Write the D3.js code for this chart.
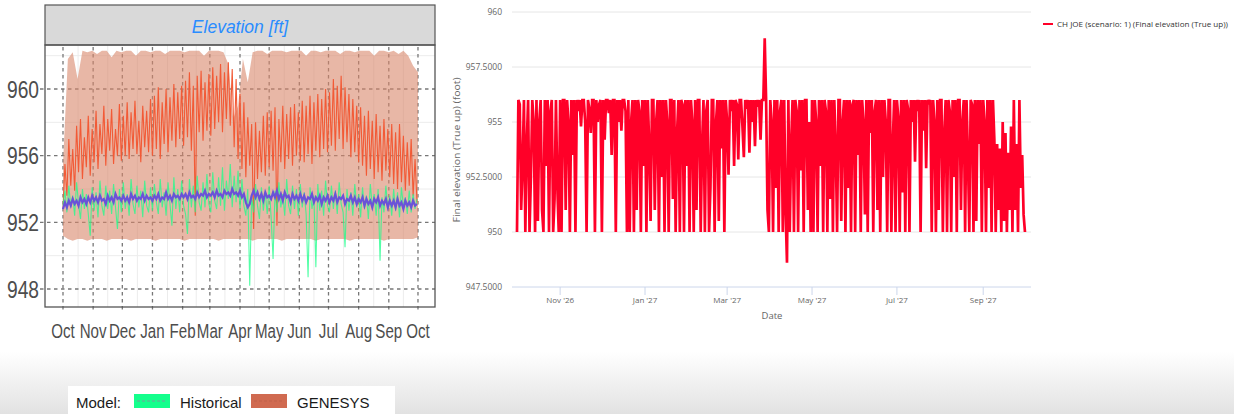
<!DOCTYPE html>
<html><head><meta charset="utf-8">
<script src="https://cdn.jsdelivr.net/npm/d3@7"></script>
<style>body{margin:0;background:#fff}svg{display:block}</style>
</head><body><svg id="c" width="1234" height="414"></svg>
<script>
// ---------- LEFT CHART DATA (ggplot style, water year Oct..Oct) ----------
const monthsL = ['Oct','Nov','Dec','Jan','Feb','Mar','Apr','May','Jun','Jul','Aug','Sep','Oct'];
const yTicksL = [948, 952, 956, 960];
const yMinorL = [950, 954, 958, 962];
// GENESYS envelope (5-day step)
const bandHi = [955.5,961.8,962.2,960.6,962.3,962.2,962.3,962.1,962.3,962.3,
  961.9,962.3,962.2,962.3,962.3,962.0,962.3,962.3,962.2,962.3,
  962.3,962.1,962.3,962.3,962.3,962.2,962.3,962.3,962.3,962.0,
  962.3,962.3,962.3,962.2,961.5,958.2,959.0,961.8,960.4,962.2,
  962.3,962.3,962.1,962.3,962.3,962.3,962.2,962.3,962.3,962.3,
  962.0,962.3,962.3,962.2,962.3,962.3,962.3,962.1,962.3,962.3,
  962.2,962.3,962.3,962.3,962.0,962.3,962.3,962.2,962.3,962.1,
  962.3,962.0,961.4,961.0];
const bandLo = [951.2,951.0,950.9,951.0,951.0,950.9,951.0,951.0,951.0,950.9,
  951.0,951.0,951.0,951.0,950.9,951.0,951.0,951.0,951.0,950.9,
  951.0,951.0,951.0,951.0,951.0,950.9,951.0,951.0,951.0,951.0,
  951.0,951.0,950.9,951.0,951.0,951.0,951.0,951.0,951.0,950.9,
  951.0,951.0,951.0,951.0,951.0,950.9,951.0,951.0,951.0,951.0,
  951.0,951.0,950.9,951.0,951.0,951.0,951.0,951.0,951.0,950.9,
  951.0,951.0,951.0,951.0,951.0,951.0,950.9,951.0,951.0,951.0,
  951.0,951.0,951.0,951.1];
// GENESYS trace (2-day step)
const genesys = [
  952.8,955.5,953.6,957.0,954.2,956.4,953.9,957.8,955.0,958.2,954.6,957.1,955.3,958.4,954.8,957.6,
  955.6,958.7,955.2,957.9,956.1,959.0,955.4,958.2,956.3,958.8,955.5,957.6,956.0,959.1,955.7,
  958.4,956.0,959.2,955.8,958.6,956.4,959.3,956.1,958.1,955.6,959.0,956.5,958.7,956.2,959.4,
  956.0,959.6,956.4,960.1,955.8,959.2,956.7,960.0,956.2,959.5,956.9,960.3,956.5,959.8,957.0,960.2,
  956.6,960.5,957.1,961.0,956.3,960.2,952.4,960.8,957.4,961.1,956.9,960.4,957.5,960.9,
  957.2,961.3,957.6,960.8,958.0,961.5,957.4,961.0,958.2,961.6,957.8,961.2,956.5,960.6,955.8,959.7,
  955.2,959.2,954.7,958.3,955.4,957.9,951.6,958.0,954.6,957.5,955.0,958.4,954.8,958.6,955.3,
  958.7,955.1,958.9,951.8,958.2,955.6,959.0,955.2,958.5,955.8,958.9,955.4,959.1,956.0,958.6,955.7,
  959.3,955.6,959.0,956.1,959.6,955.5,959.2,956.3,959.7,955.9,959.4,956.4,960.0,956.2,959.8,
  956.6,960.6,956.3,960.2,957.0,960.8,956.4,960.1,956.8,959.7,955.9,959.4,956.2,959.0,955.6,
  958.9,955.4,958.4,954.8,958.7,955.2,958.1,954.6,958.5,955.0,957.8,954.5,958.2,955.1,957.6,954.7,
  957.9,954.3,957.4,954.0,957.9,954.4,957.2,953.9,956.8,954.2,957.0,953.6,955.8,953.2];
// Historical traces (2-day step)
const historical = [
  953.0,953.9,952.6,954.2,952.9,953.6,952.4,954.4,953.1,952.2,954.0,952.8,953.7,952.5,951.2,954.1,
  952.7,953.8,952.3,954.5,953.0,952.4,954.2,952.8,953.9,952.5,954.3,952.9,951.6,954.0,952.6,
  954.4,952.8,953.7,952.4,954.6,953.1,952.5,954.2,952.9,953.9,952.3,954.5,953.0,952.6,954.1,
  952.7,954.3,953.2,952.5,954.6,952.9,953.8,952.4,954.4,953.1,951.8,954.7,952.8,954.0,952.6,954.5,
  953.0,952.5,951.3,954.6,952.9,954.2,952.6,954.8,953.2,952.7,954.4,952.9,954.9,953.1,
  952.6,955.0,953.3,952.8,954.7,953.0,955.3,952.7,954.5,953.4,955.5,952.9,954.8,953.2,955.1,952.8,
  954.6,953.0,952.4,954.0,948.2,953.5,952.6,954.3,953.0,952.2,954.1,952.7,953.8,952.5,954.2,
  952.3,949.8,953.9,952.6,954.4,952.9,953.7,952.4,954.6,953.0,952.5,954.2,952.8,954.0,952.4,954.3,
  952.9,953.8,952.5,948.7,954.1,952.8,953.6,949.3,954.3,952.7,953.9,952.4,954.5,953.0,952.6,
  954.2,952.8,953.9,952.5,954.4,953.1,952.6,950.5,954.0,952.7,953.8,952.4,954.3,952.9,953.7,
  952.3,954.1,952.8,953.6,952.2,954.3,952.9,953.7,952.4,954.0,949.7,953.5,952.6,954.2,952.8,953.6,
  952.4,954.0,952.7,953.8,952.3,954.1,952.9,953.5,952.5,953.9,952.6,953.7,952.8,953.4];
// Historical mean (2-day step)
const histMean = [
  952.8,953.2,952.9,953.3,953.0,953.4,953.1,953.3,953.0,953.5,953.2,953.4,953.1,953.5,953.2,953.6,
  953.3,953.5,953.2,953.6,953.3,953.4,953.1,953.6,953.3,953.5,953.2,953.7,953.4,953.5,953.3,
  953.6,953.3,953.5,953.2,953.7,953.4,953.6,953.3,953.5,953.4,953.7,953.3,953.6,953.4,953.5,
  953.3,953.6,953.4,953.7,953.3,953.5,953.4,953.8,953.4,953.6,953.3,953.7,953.5,953.6,953.4,953.7,
  953.5,953.7,953.4,953.8,953.5,953.6,953.4,953.8,953.5,953.7,953.6,953.9,953.5,953.7,
  953.6,953.8,953.5,953.9,953.6,953.7,953.5,953.9,953.7,953.8,953.6,954.0,953.7,953.8,953.6,953.9,
  953.5,953.7,953.2,952.9,953.1,953.6,953.9,953.5,953.8,953.4,953.7,953.3,953.8,953.5,953.6,
  953.4,953.8,953.5,953.9,953.4,953.7,953.3,953.8,953.5,953.6,953.2,953.7,953.4,953.6,953.3,953.7,
  953.3,953.6,953.2,953.5,953.4,953.7,953.2,953.5,953.3,953.6,953.1,953.5,953.3,953.6,953.2,
  953.5,953.3,953.7,953.2,953.5,953.4,953.6,953.1,953.4,953.3,953.6,953.2,953.5,953.1,953.4,
  953.2,953.5,953.0,953.4,953.1,953.3,952.9,953.4,953.2,953.5,953.0,953.3,953.1,953.4,952.9,953.3,
  953.0,953.3,952.9,953.4,953.0,953.2,952.8,953.3,953.0,953.2,952.9,953.3,953.0,953.1];
const legendL = ['Historical', 'GENESYS'];

// ---------- RIGHT CHART DATA (daily, Oct 1 2026 .. Oct 1 2027) ----------
const tickLabelsR = ["Nov '26", "Jan '27", "Mar '27", "May '27", "Jul '27", "Sep '27"];
const tickDatesR = [Date.UTC(2026,10,1), Date.UTC(2027,0,1), Date.UTC(2027,2,1), Date.UTC(2027,4,1), Date.UTC(2027,6,1), Date.UTC(2027,8,1)];
const yTicksR = [947.5, 950, 952.5, 955, 957.5, 960];
const yLabelsR = ['947.5000', '950', '952.5000', '955', '957.5000', '960'];
const seriesNameR = 'CH JOE (scenario: 1) (Final elevation (True up))';
const elevR = [
  950,956,955.8,951,953,956,950,954,956,950,952.5,956,955,950,956,950.5,955,956,951,950,956,953,956,950,955.5,956,950,951.5,956,952,950,
  956,950,956,956,951,956,955,950,956,953.5,956,950,
  956,955.5,956,954.8,956,956,955,950,956,955.6,954.5,956,956,950,956,955,955.8,956,950,956,954.2,956,956,955.4,956,953.5,956,956,950,956,955,956,954.6,956,956,955.5,950,
  956,950,955,956,950,956,951,956,955.5,950,956,953,956,950,956,954,950.5,956,956,951,955,956,950,956,952.5,956,950,956,955,950,956,956,951.5,956,950,954.5,956,950,956,955.8,950,956,953,
  956,950,956,955,950,956,951,956,956,950,954,956,950,955.5,956,950,952,956,956,950,955,956,950.5,956,953.8,956,950,956,955,
  952.6,956,955.5,956,953,956,955.8,953.3,956,956,954.8,953.4,956,955.6,956,953.6,956,955,956,953.9,956,955.7,956,954.2,956,956,958.8,956,951,
  950,956,955,950,956,952,956,950,955.5,956,950,956,951,948.6,956,950,954,956,950,956,955.5,950,956,952.8,956,950,956,956,951,955,950,956,
  950,956,955,950,956,953,956,950,956,955.5,950,956,951.5,956,950,956,954,950,956,956,950.5,955,956,950,956,952,956,950,955.8,956,950,956,953.5,956,950,956,955,950.8,956,950,
  956,954.5,956,950,955.5,956,951,956,950,956,952.5,956,955,950,956,956,950,954,956,950,956,955.2,950,956,951.8,956,950,956,955.6,950,
  956,955,956,953.2,956,955.5,956,950,956,954.6,956,952.9,956,955.8,956,
  950,956,955,950,956,951,956,956,950,954.5,956,950,956,955.5,950,956,952.5,956,950,956,956,951,955,956,950,956,953.5,950,956,955.8,950,956,950.5,956,954,956,950,956,955,950,956,952,956,950,956,
  954.2,950,954,951,953.8,950,955,950.5,954.5,950,953.6,951,954.8,950,956,951,954,950,956,952,953.5,950.8,950];

// ---------- DRAW ----------
const DAY = 864e5;
const svg = d3.select('#c');
const defs = svg.append('defs');
const grad = defs.append('linearGradient').attr('id','bg').attr('x1',0).attr('x2',0).attr('y1',0).attr('y2',1);
grad.append('stop').attr('offset','0%').attr('stop-color','#ffffff');
grad.append('stop').attr('offset','100%').attr('stop-color','#e2e2e2');
svg.append('rect').attr('x',0).attr('y',352).attr('width',1234).attr('height',62).attr('fill','url(#bg)');

const sansL = "'Liberation Sans', Arial, sans-serif";

// ===== LEFT =====
const t0L = Date.UTC(2001,9,1);
const xL = d3.scaleUtc().domain([Date.UTC(2001,8,12,12), Date.UTC(2002,9,18,12)]).range([45,435]);
const yL = d3.scaleLinear().domain([946.92, 962.64]).range([307,45]);
const monthDates = d3.utcMonth.range(Date.UTC(2001,9,1), Date.UTC(2002,9,2));
const midMonths = d3.pairs(monthDates).map(([a,b]) => new Date((+a + +b)/2));
const gL = svg.append('g');
gL.append('rect').attr('x',45).attr('y',45).attr('width',390).attr('height',262).attr('fill','#fff');
// minor grid
gL.selectAll('.mh').data(yMinorL.filter(v => yL(v) > 45)).join('line')
  .attr('x1',45).attr('x2',435).attr('y1',d=>yL(d)).attr('y2',d=>yL(d))
  .attr('stroke','#ececec').attr('stroke-width',1);
gL.selectAll('.mv').data(midMonths).join('line')
  .attr('x1',d=>xL(d)).attr('x2',d=>xL(d)).attr('y1',45).attr('y2',307)
  .attr('stroke','#ececec').attr('stroke-width',1);
// major dashed grid
gL.selectAll('.gh').data(yTicksL).join('line')
  .attr('x1',40).attr('x2',435).attr('y1',d=>yL(d)).attr('y2',d=>yL(d))
  .attr('stroke','#777').attr('stroke-width',1.3).attr('stroke-dasharray','3.5,3.5');
gL.selectAll('.gv').data(monthDates).join('line')
  .attr('x1',d=>xL(d)).attr('x2',d=>xL(d)).attr('y1',47).attr('y2',312)
  .attr('stroke','#777').attr('stroke-width',1.3).attr('stroke-dasharray','3.5,3.5');

// GENESYS envelope
const band = d3.area()
  .x((d,i) => xL(t0L + i*5*DAY)).y0((d,i) => yL(bandLo[i])).y1(d => yL(d));
gL.append('path').datum(bandHi).attr('d', band).attr('fill','#d9876a').attr('fill-opacity',0.6);
// GENESYS trace
const line2 = arr => d3.line().x((d,i) => xL(t0L + i*2*DAY)).y(d => yL(d))(arr);
gL.append('path').attr('d', line2(genesys)).attr('fill','none').attr('stroke','#f25a36').attr('stroke-width',1.1);
// Historical traces
gL.append('path').attr('d', line2(historical)).attr('fill','none').attr('stroke','#1aff8a').attr('stroke-width',1.1).attr('stroke-opacity',0.75);
// mean
gL.append('path').attr('d', line2(histMean)).attr('fill','none').attr('stroke','#6a52d8').attr('stroke-width',2.2);

// strip + border
gL.append('rect').attr('x',45).attr('y',5).attr('width',390).attr('height',40).attr('fill','#d9d9d9').attr('stroke','#555').attr('stroke-width',1.2);
gL.append('text').attr('x',240).attr('y',33).attr('text-anchor','middle')
  .attr('font-family',sansL).attr('font-style','italic').attr('font-size',17.5)
  .attr('fill','#2a8cff').text('Elevation [ft]');
gL.append('rect').attr('x',45).attr('y',45).attr('width',390).attr('height',262).attr('fill','none').attr('stroke','#555').attr('stroke-width',1.3);

// axes labels (horizontally condensed like the reference)
gL.selectAll('.yl').data(yTicksL).join('text')
  .attr('transform',d=>`translate(39,${yL(d)+8.5}) scale(0.8,1)`).attr('text-anchor','end')
  .attr('font-family',sansL).attr('font-size',24).attr('fill','#4d4d4d').text(d=>d);
gL.selectAll('.xl').data(monthDates).join('text')
  .attr('transform',d=>`translate(${xL(d)},338) scale(0.72,1)`).attr('text-anchor','middle')
  .attr('font-family',sansL).attr('font-size',21).attr('fill','#4d4d4d').text((d,i)=>monthsL[i]);

// legend
const lg = svg.append('g');
lg.append('rect').attr('x',68).attr('y',386).attr('width',327).attr('height',28).attr('fill','#fff');
lg.append('text').attr('x',76).attr('y',408).attr('font-family',sansL).attr('font-size',15).attr('fill','#1a1a1a').text('Model:');
const swX = [134, 251], swC = ['#14ff8c', '#d06a50'], swD = ['#7a9a9a', '#c06048'], txX = [180, 297];
legendL.forEach((name,i) => {
  lg.append('rect').attr('x',swX[i]).attr('y',394).attr('width',36).attr('height',14).attr('fill',swC[i]);
  lg.append('line').attr('x1',swX[i]+3).attr('x2',swX[i]+33).attr('y1',401).attr('y2',401)
    .attr('stroke',swD[i]).attr('stroke-width',1).attr('stroke-dasharray','3,2');
  lg.append('text').attr('x',txX[i]).attr('y',408).attr('font-family',sansL).attr('font-size',15).attr('fill','#1a1a1a').text(name);
});

// ===== RIGHT =====
const t0R = Date.UTC(2026,9,1);
const xR = d3.scaleUtc().domain([Date.UTC(2026,8,27,10), Date.UTC(2027,9,5,8)]).range([512,1031]);
const yR = d3.scaleLinear().domain([947.5, 960]).range([287, 12]);
const gR = svg.append('g');
const rf = "'Open Sans', 'Noto Sans', sans-serif";
gR.selectAll('.rg').data(yTicksR.slice(1)).join('line')
  .attr('x1',512).attr('x2',1031).attr('y1',d=>yR(d)).attr('y2',d=>yR(d))
  .attr('stroke','#e6e6e6').attr('stroke-width',1);
gR.append('line').attr('x1',512).attr('x2',1031).attr('y1',yR(947.5)).attr('y2',yR(947.5)).attr('stroke','#ccd6eb').attr('stroke-width',1);
gR.selectAll('.rt').data(tickDatesR).join('line')
  .attr('x1',d=>xR(d)).attr('x2',d=>xR(d)).attr('y1',287).attr('y2',295).attr('stroke','#ccd6eb');
gR.selectAll('.rxl').data(tickDatesR).join('text')
  .attr('x',d=>xR(d)).attr('y',303).attr('text-anchor','middle')
  .attr('font-family',rf).attr('font-size',8).attr('fill','#666').text((d,i)=>tickLabelsR[i]);
gR.selectAll('.ryl').data(yTicksR).join('text')
  .attr('x',502).attr('y',d=>yR(d)+3).attr('text-anchor','end')
  .attr('font-family',rf).attr('font-size',8.5).attr('fill','#666').text((d,i)=>yLabelsR[i]);
gR.append('text').attr('x',772).attr('y',319).attr('text-anchor','middle')
  .attr('font-family',rf).attr('font-size',9.5).attr('fill','#666').text('Date');
gR.append('text').attr('transform','translate(460,150) rotate(-90)').attr('text-anchor','middle')
  .attr('font-family',rf).attr('font-size',8.5).attr('fill','#666')
  .attr('textLength',145).attr('lengthAdjust','spacingAndGlyphs').text('Final elevation (True up) (foot)');
gR.append('path').datum(elevR)
  .attr('d', d3.line().x((d,i) => xR(t0R + i*DAY)).y(d => yR(d)))
  .attr('fill','none').attr('stroke','#ff0028').attr('stroke-width',2.7).attr('stroke-linejoin','miter').attr('stroke-miterlimit',1.5);
// legend
gR.append('line').attr('x1',1043).attr('x2',1053).attr('y1',24).attr('y2',24).attr('stroke','#ff0028').attr('stroke-width',2);
gR.append('text').attr('x',1057).attr('y',27).attr('font-family',rf).attr('font-size',8).attr('fill','#333')
  .attr('textLength',171).attr('lengthAdjust','spacingAndGlyphs').text(seriesNameR);
</script></body></html>
